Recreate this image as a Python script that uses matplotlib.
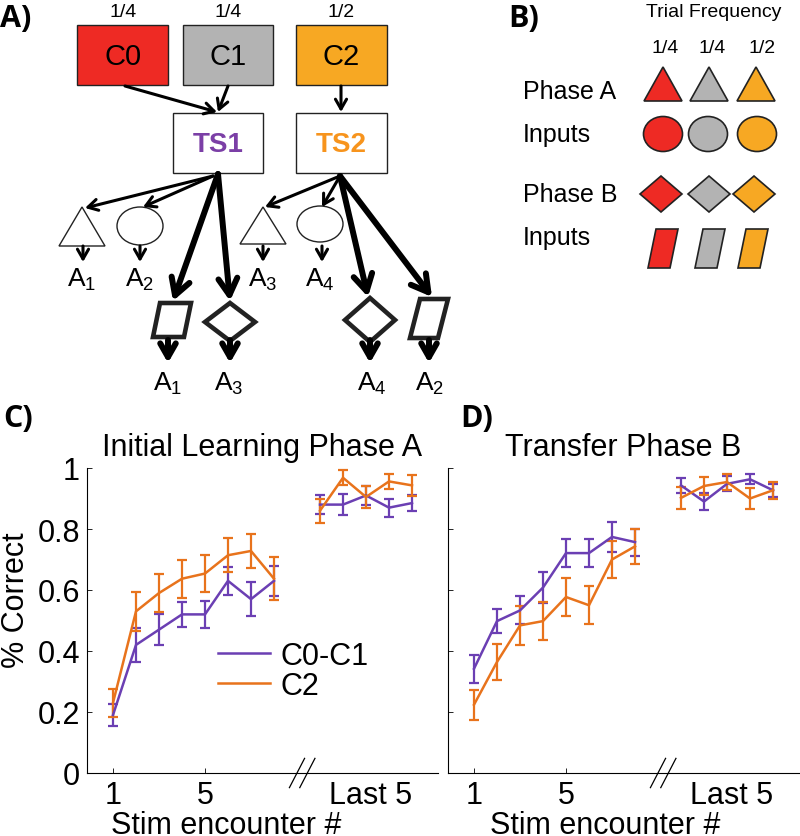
import matplotlib
matplotlib.use('Agg')
import matplotlib.pyplot as plt
import matplotlib.patches as patches
from matplotlib.lines import Line2D

plt.rcParams['font.family'] = ['Liberation Sans', 'DejaVu Sans']
plt.rcParams['mathtext.fontset'] = 'custom'
plt.rcParams['mathtext.rm'] = 'Liberation Sans'
plt.rcParams['mathtext.it'] = 'Liberation Sans:italic'

# ---- data ----
series_labels = ['C0-C1', 'C2']
early_x = [1, 2, 3, 4, 5, 6, 7, 8]
last_x = [10, 11, 12, 13, 14]
tick_pos = [1, 5, 12.2]
tick_labels = ['1', '5', 'Last 5']

phaseA_c01_early = [0.19, 0.42, 0.47, 0.52, 0.52, 0.63, 0.57, 0.63]
phaseA_c01_early_err = [0.035, 0.055, 0.05, 0.04, 0.045, 0.045, 0.055, 0.05]
phaseA_c01_last = [0.88, 0.88, 0.91, 0.87, 0.885]
phaseA_c01_last_err = [0.03, 0.035, 0.03, 0.03, 0.025]
phaseA_c2_early = [0.23, 0.53, 0.59, 0.637, 0.654, 0.714, 0.728, 0.637]
phaseA_c2_early_err = [0.045, 0.063, 0.063, 0.063, 0.06, 0.055, 0.057, 0.07]
phaseA_c2_last = [0.86, 0.968, 0.905, 0.956, 0.943]
phaseA_c2_last_err = [0.04, 0.025, 0.035, 0.025, 0.035]

phaseB_c01_early = [0.342, 0.498, 0.533, 0.608, 0.721, 0.721, 0.774, 0.757]
phaseB_c01_early_err = [0.046, 0.04, 0.046, 0.052, 0.045, 0.045, 0.048, 0.044]
phaseB_c01_last = [0.943, 0.89, 0.948, 0.963, 0.927]
phaseB_c01_last_err = [0.025, 0.027, 0.025, 0.016, 0.022]
phaseB_c2_early = [0.224, 0.364, 0.484, 0.498, 0.577, 0.55, 0.70, 0.743]
phaseB_c2_early_err = [0.049, 0.058, 0.064, 0.062, 0.062, 0.063, 0.062, 0.057]
phaseB_c2_last = [0.902, 0.941, 0.954, 0.90, 0.927]
phaseB_c2_last_err = [0.036, 0.028, 0.025, 0.036, 0.028]

PURPLE = '#6B3FB3'
ORANGE = '#E8731C'
RED = '#EE2A24'
GRAY = '#B3B3B3'
GOLD = '#F7A823'

fig = plt.figure(figsize=(8, 8.37), dpi=100)

# ---- overlay for schematic panels (pixel coordinates, y down) ----
ov = fig.add_axes([0, 0, 1, 1])
ov.set_xlim(0, 800)
ov.set_ylim(837, 0)
ov.axis('off')


def arrow(x0, y0, x1, y1, lw=2.2, ms=10):
    ov.annotate('', xy=(x1, y1), xytext=(x0, y0),
                arrowprops=dict(arrowstyle='->,head_length=0.7,head_width=0.4',
                                lw=lw, color='black', mutation_scale=ms,
                                shrinkA=0, shrinkB=0))


def box(x, y, w, h, fc):
    ov.add_patch(patches.Rectangle((x, y), w, h, facecolor=fc,
                                   edgecolor='#222222', lw=1.0))


def tri(cx, top, bot, hw, fc='white', lw=1.0):
    ov.add_patch(patches.Polygon([(cx, top), (cx + hw, bot), (cx - hw, bot)],
                                 closed=True, facecolor=fc, edgecolor='#222222', lw=lw))


def diamond(cx, cy, hw, hh, fc='white', lw=1.0):
    ov.add_patch(patches.Polygon([(cx, cy - hh), (cx + hw, cy), (cx, cy + hh), (cx - hw, cy)],
                                 closed=True, facecolor=fc, edgecolor='#222222', lw=lw,
                                 joinstyle='miter'))


def para(pts, fc='white', lw=1.0):
    ov.add_patch(patches.Polygon(pts, closed=True, facecolor=fc,
                                 edgecolor='#222222', lw=lw, joinstyle='miter'))


# Panel A
box(77, 26, 91, 60, RED)
box(183, 26, 90, 60, GRAY)
box(296, 26, 91, 60, GOLD)
for cx, s in [(123, '1/4'), (228, '1/4'), (341, '1/2')]:
    ov.text(cx, 12, s, ha='center', va='center', fontsize=14)
for cx, s in [(123, 'C0'), (228, 'C1'), (341, 'C2')]:
    ov.text(cx, 57, s, ha='center', va='center', fontsize=21)
box(173, 114, 90, 60, 'white')
box(296, 114, 91, 60, 'white')
ov.text(218, 145, 'TS1', ha='center', va='center', fontsize=20,
        fontweight='bold', color='#7B3FA6')
ov.text(341, 145, 'TS2', ha='center', va='center', fontsize=20,
        fontweight='bold', color='#F7941D')

arrow(125, 87, 217, 113)
arrow(228, 87, 218, 113)
arrow(341, 87, 341, 113)

tri(82, 208, 247, 23)
ov.add_patch(patches.Ellipse((140, 227), 46, 38, facecolor='white', edgecolor='#222222', lw=1.0))
tri(263, 208, 245, 23)
ov.add_patch(patches.Ellipse((320, 225), 46, 36, facecolor='white', edgecolor='#222222', lw=1.0))

arrow(213, 177, 85, 209)
arrow(213, 177, 143, 208)
arrow(340, 177, 265, 208)
arrow(340, 177, 322, 208)
arrow(218, 175, 173, 302, lw=4.3, ms=17)
arrow(218, 175, 230, 302, lw=4.3, ms=17)
arrow(340, 177, 368, 298, lw=4.3, ms=17)
arrow(340, 177, 432, 298, lw=4.3, ms=17)

para([(160, 304), (191, 304), (184, 338), (153, 338)], lw=3.3)
diamond(230, 323, 25, 19, lw=3.3)
diamond(370, 321, 25, 22, lw=3.3)
para([(420, 300), (448, 300), (438, 339), (410, 339)], lw=3.3)

for x in [83, 140, 263, 322]:
    arrow(x, 247, x, 263)
for x in [168, 230, 370, 429]:
    arrow(x, 341, x, 364, lw=4.3, ms=14)

for cx, s in [(82, 'A$_1$'), (140, 'A$_2$'), (263, 'A$_3$'), (320, 'A$_4$')]:
    ov.text(cx, 280, s, ha='center', va='center', fontsize=19)
for cx, s in [(168, 'A$_1$'), (229, 'A$_3$'), (372, 'A$_4$'), (430, 'A$_2$')]:
    ov.text(cx, 384, s, ha='center', va='center', fontsize=19)

# Panel B
ov.text(714, 12, 'Trial Frequency', ha='center', va='center', fontsize=14)
for cx, s in [(665, '1/4'), (712, '1/4'), (762, '1/2')]:
    ov.text(cx, 48, s, ha='center', va='center', fontsize=14)
for y, s in [(92, 'Phase A'), (135, 'Inputs'), (195, 'Phase B'), (238, 'Inputs')]:
    ov.text(523, y, s, ha='left', va='center', fontsize=18)
b_colors = [RED, GRAY, GOLD]
for cx, c in zip([663, 709, 756], b_colors):
    tri(cx, 68, 102, 19, fc=c, lw=1.2)
for cx, c in zip([663, 708, 757], b_colors):
    ov.add_patch(patches.Ellipse((cx, 135), 39, 35, facecolor=c, edgecolor='#222222', lw=1.2))
for cx, c in zip([661, 709, 754], b_colors):
    diamond(cx, 195, 21, 18, fc=c, lw=1.2)
for dx, c in zip([0, 47, 90], b_colors):
    para([(656 + dx, 230), (678 + dx, 230), (670 + dx, 269), (648 + dx, 269)], fc=c, lw=1.2)

# panel letters
lab = dict(fontsize=22, fontweight='bold', family=['Open Sans', 'DejaVu Sans'],
           ha='left', va='top')
ov.text(0, 4, 'A)', **lab)
ov.text(508, 4, 'B)', **lab)
ov.text(3, 404, 'C)', **lab)
ov.text(460, 404, 'D)', **lab)

# ---- line charts ----
axC = fig.add_axes([87 / 800, 63 / 837, 351 / 800, 305 / 837])
axD = fig.add_axes([448 / 800, 63 / 837, 351 / 800, 305 / 837])

panels = [
    (axC, 'Initial Learning Phase A',
     [(phaseA_c01_early, phaseA_c01_early_err, phaseA_c01_last, phaseA_c01_last_err, PURPLE),
      (phaseA_c2_early, phaseA_c2_early_err, phaseA_c2_last, phaseA_c2_last_err, ORANGE)]),
    (axD, 'Transfer Phase B',
     [(phaseB_c01_early, phaseB_c01_early_err, phaseB_c01_last, phaseB_c01_last_err, PURPLE),
      (phaseB_c2_early, phaseB_c2_early_err, phaseB_c2_last, phaseB_c2_last_err, ORANGE)]),
]

FS = 22
for ax, title, series in panels:
    for m_e, e_e, m_l, e_l, col in series:
        ax.errorbar(early_x, m_e, yerr=e_e, color=col, lw=1.8, capsize=3.5,
                    capthick=1.6, elinewidth=1.6)
        ax.errorbar(last_x, m_l, yerr=e_l, color=col, lw=1.8, capsize=3.5,
                    capthick=1.6, elinewidth=1.6)
    ax.set_xlim(-0.13, 15.13)
    ax.set_ylim(0, 1)
    ax.spines['top'].set_visible(False)
    ax.spines['right'].set_visible(False)
    ax.spines['left'].set_linewidth(0.8)
    ax.spines['bottom'].set_linewidth(0.8)
    ax.set_xticks(tick_pos)
    ax.set_xticklabels(tick_labels)
    ax.set_yticks([0, 0.2, 0.4, 0.6, 0.8, 1.0])
    ax.tick_params(direction='in', length=3.5, width=0.6, labelsize=FS, pad=5)
    ax.tick_params(axis='x', which='both', pad=5)
    ax.xaxis.get_ticklines()[-1].set_visible(False)
    ax.xaxis.get_ticklines()[-2].set_visible(False)
    ax.set_title(title, fontsize=FS, pad=9)
    ax.set_xlabel('Stim encounter #', fontsize=FS)
    # axis break marks
    for bx in (9.0, 9.45):
        ax.plot([bx - 0.33, bx + 0.33], [-0.048, 0.048], color='black', lw=0.9,
                clip_on=False)

axC.set_yticklabels(['0', '0.2', '0.4', '0.6', '0.8', '1'])
axD.set_yticklabels([])
axC.set_ylabel('% Correct', fontsize=FS)
axC.yaxis.set_label_coords(-0.16, 0.57)
axC.xaxis.set_label_coords(0.396, -0.12)
axD.xaxis.set_label_coords(0.447, -0.12)

handles = [Line2D([], [], color=PURPLE, lw=1.8), Line2D([], [], color=ORANGE, lw=1.8)]
axC.legend(handles, series_labels, loc='center left', bbox_to_anchor=(0.373, 0.334),
           frameon=False, fontsize=FS, handlelength=1.7, handletextpad=0.35,
           labelspacing=0.0, borderpad=0, borderaxespad=0)

fig.savefig('out.png', dpi=100)
